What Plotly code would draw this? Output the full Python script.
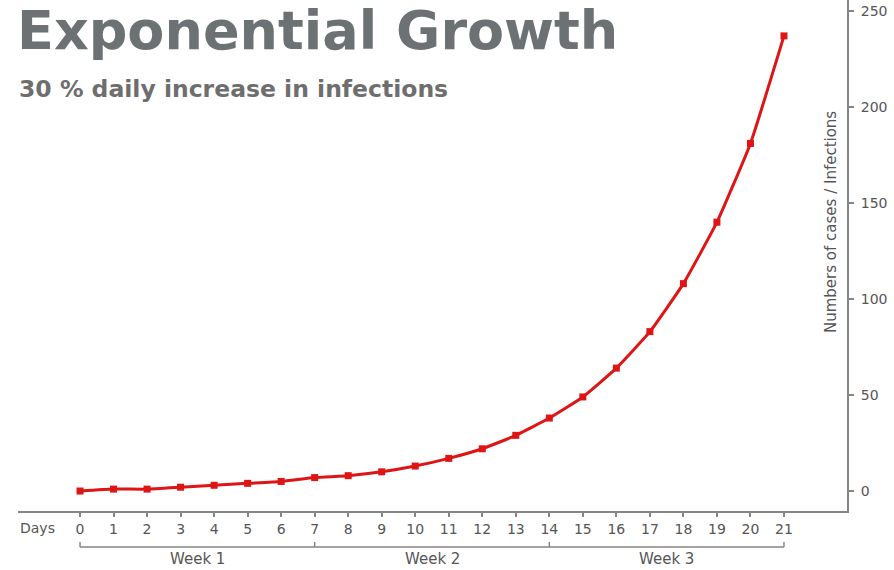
import plotly.graph_objects as go

# Day index and number of infections (30 % daily growth)
days = list(range(22))
cases = [0, 1, 1, 2, 3, 4, 5, 7, 8, 10, 13, 17, 22, 29, 38, 49, 64, 83, 108, 140, 181, 237]
day_labels = [str(d) for d in days]
y_ticks = [0, 50, 100, 150, 200, 250]

# Week groupings along the day axis
week_names = ["Week 1", "Week 2", "Week 3"]
week_bounds = [0, 7, 14, 21]

title_text = "Exponential Growth"
subtitle_text = "30 % daily increase in infections"
y_title = "Numbers of cases / Infections"

FONT = "DejaVu Sans"
GREY = "#555555"
AXIS = "#858585"
RED = "#df1414"

W, H = 894, 570
ML, MR, MT, MB = 18, 47, 0, 59
PW, PH = W - ML - MR, H - MT - MB


def px_x(x):
    return (x - ML) / PW


def px_y(y):
    return (H - MB - y) / PH


fig = go.Figure()
fig.add_trace(go.Scatter(
    x=days, y=cases, mode="lines+markers",
    line=dict(color=RED, width=3, shape="spline", smoothing=0.4),
    marker=dict(symbol="square", size=7, color=RED),
    hoverinfo="x+y", showlegend=False,
))

shapes = []
# bracket under the day labels
shapes.append(dict(type="line", xref="x", yref="paper",
                   x0=week_bounds[0], x1=week_bounds[-1],
                   y0=px_y(547), y1=px_y(547),
                   line=dict(color=AXIS, width=1.5)))
for b in week_bounds:
    shapes.append(dict(type="line", xref="x", yref="paper",
                       x0=b, x1=b, y0=px_y(547), y1=px_y(542),
                       line=dict(color=AXIS, width=1.5)))

annotations = [
    dict(text=f"<b>{title_text}</b>", xref="paper", yref="paper",
         x=px_x(15), y=px_y(30), xanchor="left", yanchor="middle",
         showarrow=False, font=dict(family=FONT, size=54, color="#6c7174")),
    dict(text=f"<b>{subtitle_text}</b>", xref="paper", yref="paper",
         x=px_x(17), y=px_y(89), xanchor="left", yanchor="middle",
         showarrow=False, font=dict(family=FONT, size=23.5, color="#6e6e6e")),
    dict(text="Days", xref="paper", yref="paper",
         x=px_x(37), y=px_y(528), xanchor="center", yanchor="middle",
         showarrow=False, font=dict(family=FONT, size=14, color=GREY)),
    dict(text=y_title, xref="paper", yref="paper", textangle=-90,
         x=px_x(831), y=px_y(222), xanchor="center", yanchor="middle",
         showarrow=False, font=dict(family=FONT, size=15, color=GREY)),
]
for i, name in enumerate(week_names):
    annotations.append(dict(
        text=name, xref="x", yref="paper",
        x=(week_bounds[i] + week_bounds[i + 1]) / 2, y=px_y(559),
        xanchor="center", yanchor="middle", showarrow=False,
        font=dict(family=FONT, size=15, color=GREY)))

fig.update_layout(
    width=W, height=H,
    margin=dict(l=ML, r=MR, t=MT, b=MB, pad=0),
    paper_bgcolor="white", plot_bgcolor="white",
    shapes=shapes, annotations=annotations,
    xaxis=dict(
        range=[-1.85, 22.88], tickmode="array", tickvals=days, ticktext=day_labels,
        showline=True, linecolor=AXIS, linewidth=2,
        ticks="outside", ticklen=4, tickcolor=AXIS, tickwidth=1.5,
        showgrid=False, zeroline=False,
        tickfont=dict(family=FONT, size=14, color=GREY),
    ),
    yaxis=dict(
        side="right", range=[-10.4, 255.7], tickmode="array", tickvals=y_ticks,
        showline=True, linecolor=AXIS, linewidth=2,
        ticks="outside", ticklen=5, tickcolor=AXIS, tickwidth=1.5,
        ticklabelstandoff=4,
        showgrid=False, zeroline=False,
        tickfont=dict(family=FONT, size=14, color=GREY),
    ),
)

fig.write_html("out.html")
